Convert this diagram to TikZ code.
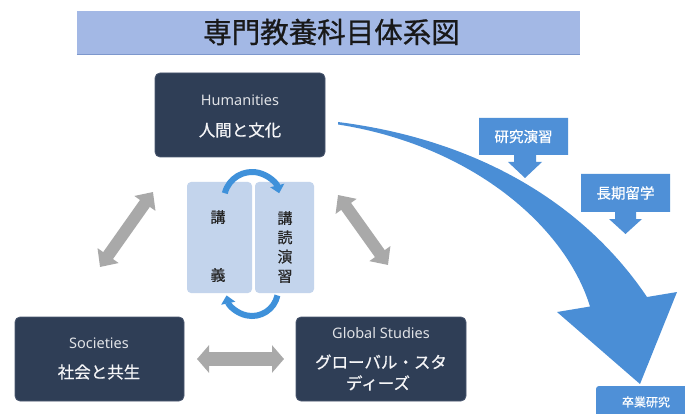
\documentclass[tikz,border=0pt]{standalone}
\usepackage{fontspec}
\setmainfont{Noto Sans}
\newfontfamily\jp[FakeBold=0.6]{Noto Sans CJK JP}
\newfontfamily\jpt[FakeBold=0.9]{Noto Sans CJK JP}
\usetikzlibrary{arrows.meta,calc}
\definecolor{navy}{HTML}{2F3E56}
\definecolor{navyedge}{HTML}{4B5870}
\definecolor{titlebar}{HTML}{A3B8E5}
\definecolor{titleedge}{HTML}{7D97CC}
\definecolor{lecture}{HTML}{C3D4EC}
\definecolor{bigblue}{HTML}{4A8ED6}
\definecolor{callblue}{HTML}{4F90D7}
\definecolor{ringblue}{HTML}{3F91DA}
\definecolor{greyarrow}{HTML}{A9A9A9}
\tikzset{
  navybox/.style={draw=navyedge, line width=0.8pt, fill=navy, rounded corners=5pt, inner sep=0pt},
  lecbox/.style={fill=lecture, rounded corners=4pt, inner sep=0pt},
  entext/.style={text=white!85!navy, font=\fontsize{14.5}{16}\selectfont, inner sep=0pt},
  jptext/.style={text=white!95!navy, font=\jp\fontsize{16.5}{18}\selectfont, inner sep=0pt},
  lectext/.style={text=black!85, font=\jp\fontsize{15}{19.3}\selectfont, inner sep=0pt, align=center},
  calltext/.style={text=white, font=\jp\fontsize{14.5}{16}\selectfont, inner sep=0pt},
  greyarr/.style={draw=greyarrow, line width=12pt, {Triangle[width=25pt,length=14pt]}-{Triangle[width=25pt,length=14pt]}},
  ring/.style={draw=ringblue, line width=6pt, -{Triangle[width=14pt,length=8pt]}},
}
\begin{document}
\begin{tikzpicture}[x=1pt,y=-1pt]
\useasboundingbox (0,0) rectangle (685,414);
\clip (0,0) rectangle (685,414);
\fill[white] (0,0) rectangle (685,414);

% title
\node[fill=titlebar, minimum width=503pt, minimum height=43pt, inner sep=0pt] (title) at (328.5,32.5) {};
\draw[titleedge, line width=1.2pt] (title.south west) -- (title.south east);
\node[inner sep=0pt, font=\jpt\fontsize{28.5}{30}\selectfont, text=black!90] (titletext) at (331.5,32) {専門教養科目体系図};

% big curved arrow
\fill[bigblue] (338,122) .. controls (480,140) and (585,205) .. (647,297)
  -- (677,292) -- (640,384) -- (557,312) -- (590,306.5)
  .. controls (565,225) and (470,145) .. (338,124.5) -- cycle;

% callouts
\fill[callblue] (479,118) -- (568,118) -- (568,155) -- (536,155) -- (536,162) -- (542,162)
  -- (525,178) -- (508,162) -- (514,162) -- (514,155) -- (479,155) -- cycle;
\node[calltext] (kenkyu) at (523.5,136.5) {研究演習};
\fill[callblue] (581,174) -- (670,174) -- (670,212) -- (636,212) -- (636,219) -- (642,219)
  -- (625.5,234) -- (609,219) -- (615,219) -- (615,212) -- (581,212) -- cycle;
\node[calltext] (ryugaku) at (625.5,193) {長期留学};
\fill[callblue, rounded corners=3pt] (596,386) rectangle (700,430);
\node[calltext, font=\jp\fontsize{12}{13}\selectfont] (sotsugyo) at (646,402) {卒業研究};

% main boxes
\node[navybox, minimum width=170pt, minimum height=84pt] (hum) at (240,115) {};
\node[entext] (humen) at (240,100) {Humanities};
\node[jptext] (humjp) at (240,130) {人間と文化};

\node[navybox, minimum width=169pt, minimum height=84pt] (soc) at (99.5,359) {};
\node[entext] (socen) at (99,343) {Societies};
\node[jptext] (socjp) at (99,372) {社会と共生};

\node[navybox, minimum width=170pt, minimum height=84pt] (glo) at (381,359) {};
\node[entext] (gloen) at (381,333) {Global Studies};
\node[jptext] (glojp1) at (381,362) {グローバル・スタ};
\node[jptext] (glojp2) at (378,383) {ディーズ};

% grey double arrows
\coordinate (la) at (100,267); \coordinate (lb) at (153,192);
\coordinate (ra) at (338,195); \coordinate (rb) at (388,265);
\coordinate (ba) at (197,359); \coordinate (bb) at (284,359);
\draw[greyarr] (la) -- (lb);
\draw[greyarr] (ra) -- (rb);
\draw[greyarr, line width=14pt, {Triangle[width=27pt,length=12pt]}-{Triangle[width=27pt,length=12pt]}] (ba) -- (bb);

% lecture boxes
\node[lecbox, minimum width=65pt, minimum height=111pt] (kogi) at (219.5,237.5) {};
\node[lecbox, minimum width=59pt, minimum height=111pt] (kodoku) at (284.5,237.5) {};
\node[lectext] (kogi1) at (218,217) {講};
\node[lectext] (kogi2) at (218,275) {義};
\node[lectext] (kodokutext) at (285,247) {講\\読\\演\\習};

% ring arrows
\coordinate (topc) at (252,200);
\coordinate (botc) at (252,290);
\draw[ring] ($(topc)+(194:28)$) arc[start angle=194, end angle=346, radius=28];
\draw[ring] ($(botc)+(12:26)$) arc[start angle=12, end angle=168, radius=26];
\end{tikzpicture}
\end{document}
